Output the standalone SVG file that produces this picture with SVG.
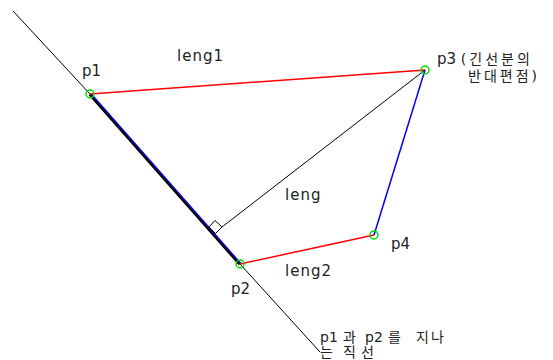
<svg xmlns="http://www.w3.org/2000/svg" width="553" height="360" viewBox="0 0 553 360">
<style>
text{font-family:"DejaVu Sans","Noto Sans CJK KR",sans-serif;font-size:15px;fill:#222}
.kr{font-size:14px;letter-spacing:3px}
.ko{font-size:14px}
.lbl{letter-spacing:1px}
.thin{stroke:#000;stroke-width:1;fill:none}
.red{stroke:#ff0000;stroke-width:1.5;fill:none}
.blue{stroke:#0000ff;stroke-width:1.5;fill:none}
.pt{fill:none;stroke:#00e000;stroke-width:1.5}
</style>
<rect width="553" height="360" fill="#fff"/>
<g id="connectors">
<polyline class="thin" points="13,11 90,94"/>
<polyline class="thin" points="240,264 320,352"/>
<line class="blue" x1="90.8" y1="93.6" x2="240.8" y2="263.6"/>
<line x1="89.5" y1="94.5" x2="239.5" y2="264.5" stroke="#000" stroke-width="2.3"/>
<line class="red" x1="90" y1="94" x2="425" y2="70"/>
<line class="red" x1="240" y1="264" x2="374" y2="235"/>
<line class="blue" x1="425" y1="70" x2="374" y2="235"/>
<line class="thin" x1="425" y1="70" x2="222" y2="227"/>
<polygon class="thin" points="209,227 215,220.5 222,227 215.5,233.5"/>
<text class="lbl" x="177" y="61">leng1</text>
<text class="lbl" x="285" y="200">leng</text>
<text class="lbl" x="285" y="276">leng2</text>
</g>
<g id="p1">
<circle class="pt" cx="90" cy="94" r="4"/>
<text x="82" y="76">p1</text>
</g>
<g id="p2">
<circle class="pt" cx="240" cy="264" r="4"/>
<text x="231" y="294">p2</text>
</g>
<g id="p3">
<circle class="pt" cx="425" cy="70" r="4"/>
<text x="437" y="64">p3 <tspan class="kr">(긴선분의</tspan></text>
<text class="kr" x="468" y="81">반대편점)</text>
</g>
<g id="p4">
<circle class="pt" cx="374" cy="235" r="4"/>
<text x="391" y="249">p4</text>
</g>
<g id="line-note">
<text class="ko" y="342"><tspan x="320">p1</tspan><tspan x="343">과</tspan><tspan x="365">p2</tspan><tspan x="388">를</tspan><tspan x="416">지</tspan><tspan x="431">나</tspan></text>
<text class="ko" y="357"><tspan x="320">는</tspan><tspan x="343">직</tspan><tspan x="361">선</tspan></text>
</g>
</svg>
